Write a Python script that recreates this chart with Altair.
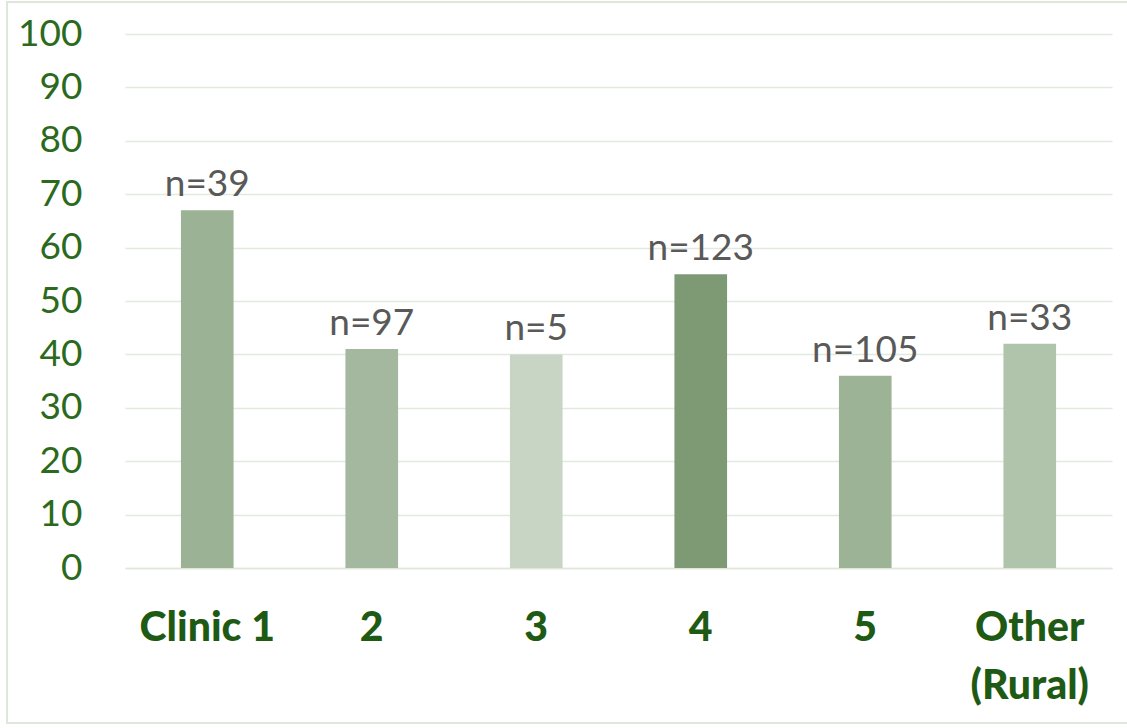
import altair as alt
import pandas as pd

categories = ["Clinic 1", "2", "3", "4", "5", "Other (Rural)"]
values = [67, 41, 40, 55, 36, 42]
n_labels = ["n=39", "n=97", "n=5", "n=123", "n=105", "n=33"]
bar_colors = ["#9bb294", "#a3b89e", "#c8d5c4", "#7e9a75", "#9db395", "#b0c3ab"]

df = pd.DataFrame({"cat": categories, "val": values, "lab": n_labels, "col": bar_colors})

FONT = "Lato"
W, H = 987, 534

x = alt.X("cat:N", sort=categories, title=None,
          scale=alt.Scale(paddingInner=0.68, paddingOuter=0.34),
          axis=alt.Axis(labelAngle=0, labelFont=FONT, labelFontSize=41, labelFontWeight=900,
                        labelColor="#1f5a14", labelPadding=40, ticks=False,
                        domainColor="#dfe6dc", domainWidth=1.5, labelLineHeight=58,
                        labelExpr="datum.value == 'Other (Rural)' ? ['Other', '(Rural)'] : datum.value"))
y = alt.Y("val:Q", title=None,
          scale=alt.Scale(domain=[0, 100]),
          axis=alt.Axis(values=list(range(0, 101, 10)), labelFont=FONT, labelFontSize=37,
                        labelColor="#2b6a1c", labelPadding=43, ticks=False, domain=False,
                        gridColor="#e2e9df", gridWidth=1.5, labelBaseline="middle"))

bars = alt.Chart(df).mark_bar().encode(x=x, y=y, color=alt.Color("col:N", scale=None))
text = alt.Chart(df).mark_text(font=FONT, fontSize=37, color="#595959", baseline="bottom", dy=-6).encode(
    x=alt.X("cat:N", sort=categories), y="val:Q", text="lab:N")

border = alt.Chart(df).mark_rect(fill=None, stroke="#dfe6dc", strokeWidth=2).encode(
    x=alt.value(-118), x2=alt.value(1010), y=alt.value(-32), y2=alt.value(689))

chart = alt.layer(border, bars, text).properties(
    width=W, height=H,
    autosize=alt.AutoSizeParams(type="none"),
    padding={"left": 125, "top": 34, "right": 15, "bottom": 160},
    background="white",
).configure_view(stroke=None)

chart.save("out.html", embed_options={"renderer": "svg", "actions": False})
